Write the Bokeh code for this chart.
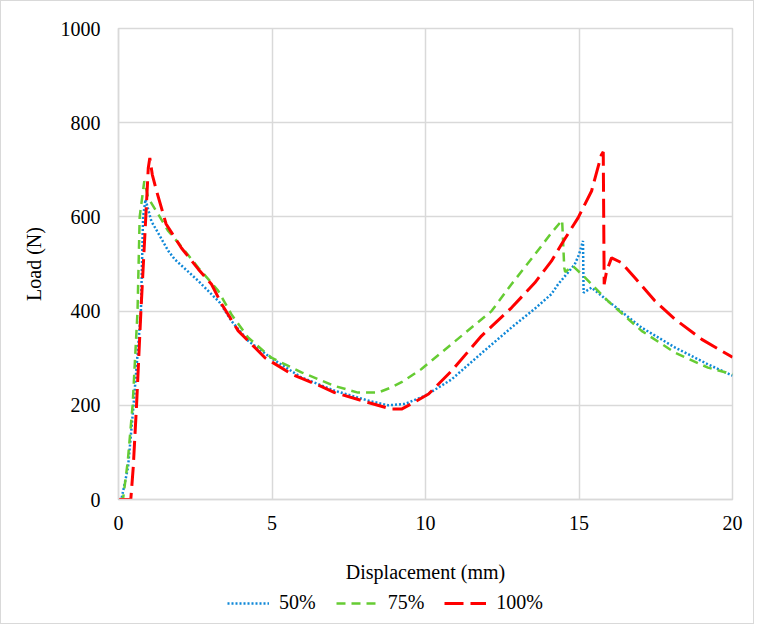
from bokeh.plotting import figure
from bokeh.layouts import column
from bokeh.models import ColumnDataSource, Legend, LegendItem, Range1d, FixedTicker
from bokeh.embed import file_html
from bokeh.resources import INLINE

# ---- data ----
d50 = [0, 0.1, 0.31, 0.49, 0.73, 0.80, 0.88, 1.07, 1.62, 1.83, 2.6, 3.3, 3.68, 4.22, 4.98, 5.96,
       7.04, 8.13, 8.78, 9.33, 9.98, 10.85, 11.92, 12.8, 13.56, 14.1, 14.32, 14.86, 15.0, 15.13,
       15.15, 15.41, 15.95, 17.04, 18.12, 19.2, 20]
l50 = [0, 2, 68, 200, 400, 600, 637, 591, 528, 510, 464, 418, 379, 337, 300, 259,
       231, 210, 200, 203, 220, 255, 316, 365, 405, 436, 457, 499, 520, 549,
       439, 450, 421, 365, 323, 287, 263]

d75 = [0, 0.15, 0.3, 0.46, 0.62, 0.69, 0.84, 0.97, 1.3, 1.62, 2.05, 2.6, 3.03, 3.25, 3.68, 4.22,
       4.98, 5.96, 7.04, 7.8, 8.45, 8.89, 9.22, 9.87, 10.85, 12.15, 12.8, 13.56, 14.1, 14.45,
       14.52, 14.55, 14.8, 15.2, 15.95, 17.04, 18.12, 19.2, 20]
l75 = [0, 2, 80, 200, 400, 600, 676, 640, 605, 570, 537, 492, 460, 443, 393, 344,
       301, 270, 241, 227, 227, 238, 249, 277, 330, 400, 457, 520, 566, 593,
       492, 483, 496, 471, 421, 358, 312, 280, 266]

d100 = [0, 0.4, 0.48, 0.59, 0.73, 0.86, 0.97, 1.02, 1.1, 1.24, 1.55, 2.05, 2.6, 3.03, 3.36, 3.9,
        4.77, 5.64, 6.5, 7.04, 8.13, 8.89, 9.22, 9.54, 10.1, 10.85, 11.82, 12.8, 13.56, 14.1,
        14.43, 14.97, 15.41, 15.73, 15.79, 15.82, 15.9, 16.06, 16.38, 16.82, 17.47, 18.12, 19.0, 20]
l100 = [0, 0, 68, 203, 400, 563, 704, 725, 690, 655, 585, 534, 489, 457, 415, 358,
        301, 266, 243, 227, 206, 192, 192, 203, 224, 273, 347, 407, 460, 506,
        542, 598, 655, 732, 738, 457, 485, 513, 503, 471, 422, 383, 340, 302]

series_names = ["50%", "75%", "100%"]
series_colors = ["#0F88D8", "#66CC33", "#FF0000"]
series_widths = [2.5, 2.5, 3]
series_dashes = ["2 2", "9 6", "19 7"]
x_ticks = [0, 5, 10, 15, 20]
y_ticks = [0, 200, 400, 600, 800, 1000]

FONT = "Liberation Serif"
GRID = "#D9D9D9"
W = 752
H1 = 584
H2 = 38

p = figure(width=W, height=H1, output_backend="svg", toolbar_location=None,
           x_range=Range1d(0, 20), y_range=Range1d(0, 1000),
           min_border_left=117, min_border_right=21, min_border_top=27, min_border_bottom=H1 - 499)
p.background_fill_color = "white"
p.border_fill_color = "white"
p.outline_line_color = GRID
p.outline_line_width = 1.5

for ax in (p.xaxis[0], p.yaxis[0]):
    ax.major_tick_line_color = None
    ax.minor_tick_line_color = None
    ax.major_tick_out = 0
    ax.major_tick_in = 0
    ax.axis_line_color = GRID
    ax.axis_line_width = 1.5
    ax.major_label_text_font = FONT
    ax.major_label_text_font_size = "20px"
    ax.major_label_text_color = "black"
    ax.axis_label_text_font = FONT
    ax.axis_label_text_font_size = "20px"
    ax.axis_label_text_font_style = "normal"
    ax.axis_label_text_color = "black"

p.xaxis.ticker = FixedTicker(ticks=x_ticks)
p.yaxis.ticker = FixedTicker(ticks=y_ticks)
p.xaxis.axis_label = "Displacement (mm)"
p.yaxis.axis_label = "Load (N)"
p.xaxis.major_label_standoff = 16
p.xaxis.axis_label_standoff = 28
p.yaxis.major_label_standoff = 18
p.yaxis.axis_label_standoff = 13

p.xgrid.ticker = FixedTicker(ticks=x_ticks)
p.ygrid.ticker = FixedTicker(ticks=y_ticks)
p.grid.grid_line_color = GRID
p.grid.grid_line_width = 1.5

sources = [ColumnDataSource(dict(x=d50, y=l50)),
           ColumnDataSource(dict(x=d75, y=l75)),
           ColumnDataSource(dict(x=d100, y=l100))]
for src, c, w, dsh in zip(sources, series_colors, series_widths, series_dashes):
    p.line("x", "y", source=src, line_color=c, line_width=w, line_dash=dsh)

# ---- legend strip below the chart (its frame is aligned with the main frame) ----
p2 = figure(width=W, height=H2, output_backend="svg", toolbar_location=None,
            x_range=Range1d(0, 20), y_range=Range1d(5000, 6000),
            x_axis_type=None, y_axis_type=None,
            min_border_left=117, min_border_right=21, min_border_top=0, min_border_bottom=0)
p2.grid.visible = False
p2.outline_line_color = None
p2.background_fill_color = "white"
p2.border_fill_color = "white"

items = []
for name, src, c, w, dsh in zip(series_names, sources, series_colors, series_widths, series_dashes):
    r = p2.line("x", "y", source=src, line_color=c, line_width=w, line_dash=dsh)
    items.append(LegendItem(label=name, renderers=[r]))

legend = Legend(items=items, orientation="horizontal", location=(109, 9))
legend.label_text_font = FONT
legend.label_text_font_size = "20px"
legend.label_text_color = "black"
legend.glyph_width = 42
legend.glyph_height = 20
legend.label_standoff = 10
legend.spacing = 20
legend.padding = 0
legend.margin = 0
legend.border_line_color = None
legend.background_fill_alpha = 0
p2.add_layout(legend, "center")

layout = column(p, p2, spacing=0, styles={"border": "1px solid #D9D9D9"})

open("out.html", "w").write(file_html(layout, INLINE))
